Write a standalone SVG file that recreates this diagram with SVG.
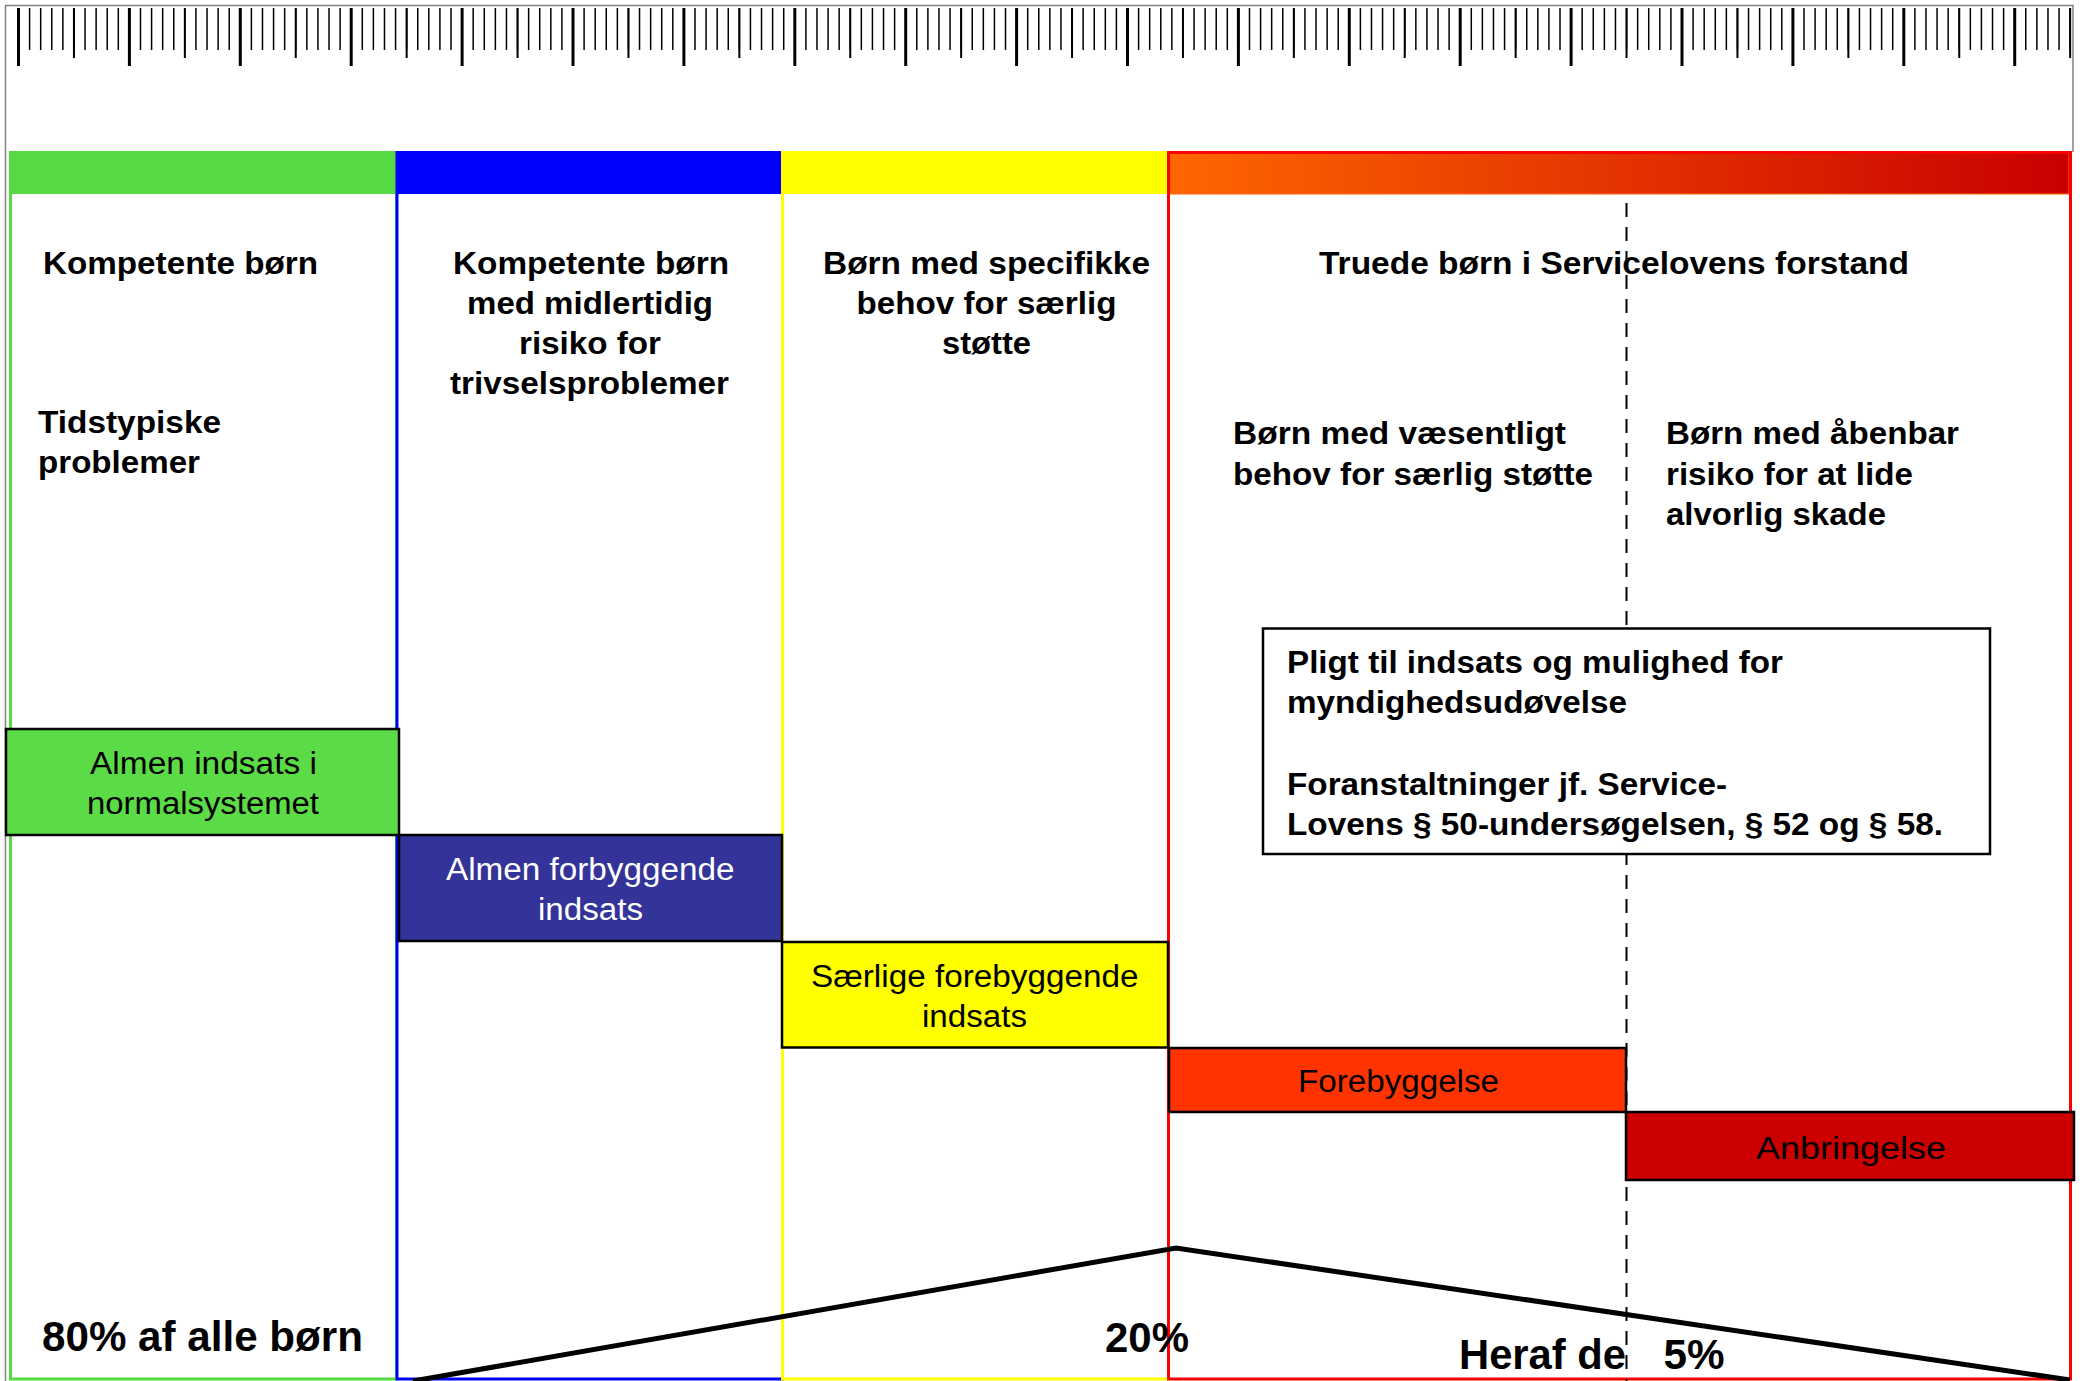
<svg xmlns="http://www.w3.org/2000/svg" width="2084" height="1381" viewBox="0 0 2084 1381">
<defs>
<linearGradient id="redgrad" x1="0" y1="0" x2="1" y2="0">
<stop offset="0" stop-color="#FF6600"/>
<stop offset="1" stop-color="#C80000"/>
</linearGradient>
<style>
text{font-family:"Liberation Sans",Arial,sans-serif;fill:#000}
.h{font-size:32px;font-weight:bold}
.r{font-size:31px}
.b{font-size:42px;font-weight:bold}
.w{fill:#fff}
.bar{stroke:#000;stroke-width:2.5}
.col{fill:none;stroke-width:3}
</style>
</defs>
<rect x="0" y="0" width="2084" height="1381" fill="#fff"/>
<!-- ruler -->
<g id="ruler" fill="none" stroke="#000">
<path d="M5.5 1381V5.5H2073V152" stroke="#808080" stroke-width="1.5"/>
<line x1="17.75" y1="29" x2="2072" y2="29" stroke-width="42" stroke-dasharray="1.5 9.59"/>
<line x1="72.95" y1="33" x2="2072" y2="33" stroke-width="50" stroke-dasharray="2 108.9"/>
<line x1="17" y1="37" x2="2022" y2="37" stroke-width="58" stroke-dasharray="3 107.9"/>
</g>
<!-- columns -->
<g id="col-green">
<rect x="9" y="151" width="388" height="43" fill="#56DA44"/>
<rect class="col" x="10.5" y="152.5" width="386" height="1226.5" stroke="#56DA44"/>
</g>
<g id="col-blue">
<rect x="396" y="151" width="387" height="43" fill="#0000FF"/>
<rect class="col" x="397" y="152.5" width="385.5" height="1226.5" stroke="#0000FF"/>
</g>
<g id="col-yellow">
<rect x="782" y="151" width="387" height="43" fill="#FFFF00"/>
<rect class="col" x="782.5" y="152.5" width="386" height="1226.5" stroke="#FFFF00"/>
</g>
<g id="col-red">
<rect x="1169" y="153" width="900" height="41" fill="url(#redgrad)" stroke="#FF6600" stroke-width="1"/>
<rect class="col" x="1168.5" y="152.5" width="902" height="1226.5" stroke="#FF0000"/>
</g>
<!-- column headings -->
<g id="head-green">
<text class="h" x="43" y="274" textLength="275" lengthAdjust="spacingAndGlyphs">Kompetente børn</text>
<text class="h" x="38" y="433" textLength="183" lengthAdjust="spacingAndGlyphs">Tidstypiske</text>
<text class="h" x="38" y="473" textLength="162" lengthAdjust="spacingAndGlyphs">problemer</text>
</g>
<g id="head-blue">
<text class="h" x="453" y="274" textLength="276" lengthAdjust="spacingAndGlyphs">Kompetente børn</text>
<text class="h" x="467" y="313.5" textLength="246" lengthAdjust="spacingAndGlyphs">med midlertidig</text>
<text class="h" x="519" y="353.5" textLength="142" lengthAdjust="spacingAndGlyphs">risiko for</text>
<text class="h" x="450" y="393.5" textLength="279" lengthAdjust="spacingAndGlyphs">trivselsproblemer</text>
</g>
<g id="head-yellow">
<text class="h" x="823" y="273.5" textLength="327" lengthAdjust="spacingAndGlyphs">Børn med specifikke</text>
<text class="h" x="856.5" y="313.5" textLength="260" lengthAdjust="spacingAndGlyphs">behov for særlig</text>
<text class="h" x="942" y="353.5" textLength="89" lengthAdjust="spacingAndGlyphs">støtte</text>
</g>
<g id="head-red">
<text class="h" x="1319" y="273.5" textLength="590" lengthAdjust="spacingAndGlyphs">Truede børn i Servicelovens forstand</text>
</g>
<g id="head-sub1">
<text class="h" x="1233" y="444" textLength="333" lengthAdjust="spacingAndGlyphs">Børn med væsentligt</text>
<text class="h" x="1233" y="484.5" textLength="360" lengthAdjust="spacingAndGlyphs">behov for særlig støtte</text>
</g>
<g id="head-sub2">
<text class="h" x="1666" y="444" textLength="293" lengthAdjust="spacingAndGlyphs">Børn med åbenbar</text>
<text class="h" x="1666" y="484.5" textLength="247" lengthAdjust="spacingAndGlyphs">risiko for at lide</text>
<text class="h" x="1666" y="525" textLength="220" lengthAdjust="spacingAndGlyphs">alvorlig skade</text>
</g>
<!-- connectors -->
<g id="connectors" fill="none" stroke="#000">
<line id="divider" x1="1626.5" y1="203" x2="1626.5" y2="1381" stroke-width="2" stroke-dasharray="14 10"/>
<polyline id="distribution" points="413,1381 1176,1248 2070,1380" stroke-width="5" stroke-linejoin="miter"/>
</g>
<!-- box -->
<g id="box-pligt">
<rect x="1263" y="628.5" width="727" height="225.5" fill="#fff" stroke="#000" stroke-width="2.5"/>
<text class="h" x="1287" y="673" textLength="496" lengthAdjust="spacingAndGlyphs">Pligt til indsats og mulighed for</text>
<text class="h" x="1287" y="713" textLength="340" lengthAdjust="spacingAndGlyphs">myndighedsudøvelse</text>
<text class="h" x="1287" y="795" textLength="440" lengthAdjust="spacingAndGlyphs">Foranstaltninger jf. Service-</text>
<text class="h" x="1287" y="835" textLength="656" lengthAdjust="spacingAndGlyphs">Lovens § 50-undersøgelsen, § 52 og § 58.</text>
</g>
<!-- bars -->
<g id="bar-almen">
<rect class="bar" x="6" y="729" width="393" height="106" fill="#5BDB45"/>
<text class="r" x="90" y="774" textLength="227" lengthAdjust="spacingAndGlyphs">Almen indsats i</text>
<text class="r" x="87" y="813.5" textLength="232" lengthAdjust="spacingAndGlyphs">normalsystemet</text>
</g>
<g id="bar-forbyggende">
<rect class="bar" x="399" y="835" width="383" height="106" fill="#333399"/>
<text class="r w" x="446" y="880" textLength="288.5" lengthAdjust="spacingAndGlyphs">Almen forbyggende</text>
<text class="r w" x="538" y="920" textLength="105" lengthAdjust="spacingAndGlyphs">indsats</text>
</g>
<g id="bar-saerlige">
<rect class="bar" x="782" y="942" width="386" height="105.5" fill="#FFFF00"/>
<text class="r" x="811" y="987" textLength="327.5" lengthAdjust="spacingAndGlyphs">Særlige forebyggende</text>
<text class="r" x="922" y="1027" textLength="105" lengthAdjust="spacingAndGlyphs">indsats</text>
</g>
<g id="bar-forebyggelse">
<rect class="bar" x="1169" y="1048" width="457" height="64" fill="#FF3300"/>
<text class="r" x="1298" y="1092" textLength="201" lengthAdjust="spacingAndGlyphs">Forebyggelse</text>
</g>
<g id="bar-anbringelse">
<rect class="bar" x="1626" y="1112" width="448" height="68" fill="#CC0000"/>
<text class="r" x="1756" y="1159" textLength="190" lengthAdjust="spacingAndGlyphs">Anbringelse</text>
</g>
<!-- percentages -->
<g id="pct-80">
<text class="b" x="42" y="1351" textLength="321" lengthAdjust="spacingAndGlyphs">80% af alle børn</text>
</g>
<g id="pct-20">
<text class="b" x="1105" y="1352" textLength="84" lengthAdjust="spacingAndGlyphs">20%</text>
</g>
<g id="pct-5">
<text class="b"><tspan x="1459" y="1369" textLength="167" lengthAdjust="spacingAndGlyphs">Heraf de</tspan><tspan x="1663.5" y="1369" textLength="61" lengthAdjust="spacingAndGlyphs">5%</tspan></text>
</g>
</svg>
